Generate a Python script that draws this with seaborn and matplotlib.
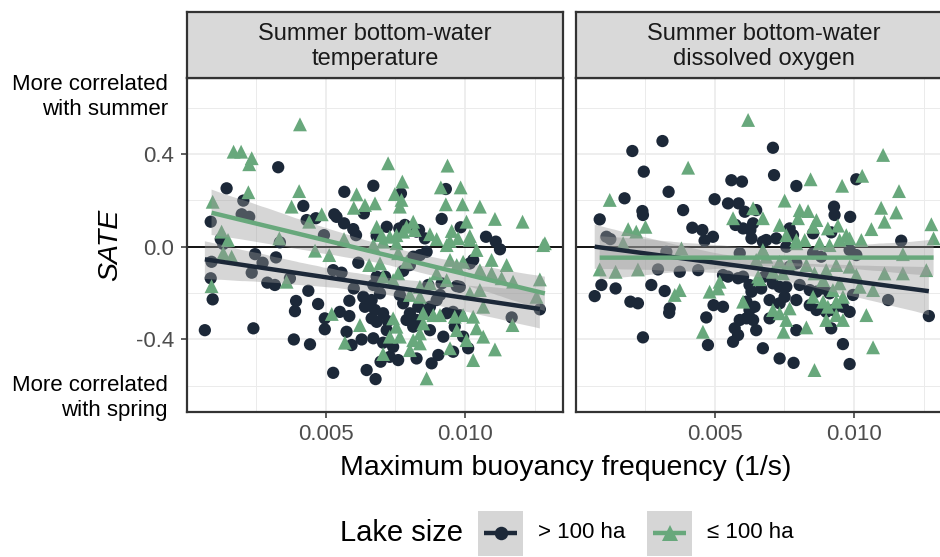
import numpy as np
import pandas as pd
import matplotlib
matplotlib.use("Agg")
import matplotlib.pyplot as plt
from matplotlib.lines import Line2D
from matplotlib.patches import Rectangle
import seaborn as sns

sns.set_theme(style="white")
plt.rcParams["font.family"] = ["Liberation Sans", "DejaVu Sans"]

# ---- Summer bottom-water temperature: lakes > 100 ha ----
temp_large_x = [0.00330, 0.00145, 0.00205, 0.00088, 0.00420, 0.00567, 0.00671, 0.00637, 0.00531, 0.00539,
                0.00465, 0.00432, 0.00566, 0.00599, 0.00609, 0.00494, 0.00199, 0.00226, 0.00719, 0.00124,
                0.00336, 0.00683, 0.00770, 0.00931, 0.00916, 0.00984, 0.00764, 0.00784, 0.00835, 0.01075,
                0.01110, 0.00856, 0.00133, 0.00247, 0.00322, 0.00274, 0.00091, 0.00235, 0.00088, 0.00095,
                0.00067, 0.00241, 0.00291, 0.00318, 0.00372, 0.00438, 0.00394, 0.00390, 0.00473, 0.00386,
                0.00444, 0.00497, 0.00497, 0.00527, 0.00617, 0.00527, 0.00557, 0.00601, 0.00551, 0.00585,
                0.00585, 0.00635, 0.00665, 0.00641, 0.00677, 0.00665, 0.00683, 0.00706, 0.00719, 0.00575,
                0.00593, 0.00629, 0.00671, 0.00706, 0.00697, 0.00647, 0.00679, 0.00683, 0.00713, 0.00695,
                0.01125, 0.00826, 0.00671, 0.00778, 0.00802, 0.00814, 0.00838, 0.00862, 0.00723, 0.00778,
                0.00802, 0.00790, 0.00814, 0.00826, 0.00766, 0.00832, 0.00856, 0.00874, 0.00898, 0.00910,
                0.00868, 0.00916, 0.00970, 0.00934, 0.00957, 0.00981, 0.00874, 0.00922, 0.00963, 0.00993,
                0.00742, 0.00730, 0.00760, 0.00826, 0.00880, 0.00904, 0.00957, 0.01011, 0.01167, 0.01268,
                0.01017, 0.01029, 0.00981]
temp_large_y = [0.343, 0.252, 0.199, 0.108, 0.176, 0.237, 0.263, 0.144, 0.140, 0.129,
                0.123, 0.115, 0.101, 0.076, 0.050, 0.050, 0.140, 0.129, 0.086, 0.033,
                0.019, 0.047, 0.230, 0.249, 0.120, 0.084, 0.079, 0.094, 0.072, 0.043,
                0.022, 0.036, 0.012, -0.032, -0.046, -0.069, -0.065, -0.112, -0.136, -0.227,
                -0.360, -0.352, -0.155, -0.165, -0.136, -0.190, -0.234, -0.278, -0.247, -0.400,
                -0.421, -0.309, -0.356, -0.544, -0.069, -0.101, -0.112, -0.180, -0.281, -0.233,
                -0.299, -0.216, -0.230, -0.259, -0.273, -0.309, -0.324, -0.287, -0.360, -0.367,
                -0.424, -0.400, -0.395, -0.414, -0.496, -0.532, -0.571, -0.129, -0.129, -0.201,
                -0.011, 0.065, -0.165, -0.104, -0.079, -0.043, -0.036, -0.022, -0.321, -0.244,
                -0.287, -0.316, -0.345, -0.316, -0.208, -0.259, -0.281, -0.259, -0.230, -0.208,
                -0.165, -0.158, -0.170, -0.287, -0.281, -0.295, -0.360, -0.388, -0.345, -0.388,
                -0.432, -0.475, -0.489, -0.482, -0.503, -0.467, -0.453, -0.438, -0.305, -0.270,
                -0.072, -0.057, -0.173]

# ---- Summer bottom-water temperature: lakes <= 100 ha ----
temp_small_x = [0.00408, 0.00170, 0.00197, 0.00235, 0.00226, 0.00223, 0.00405, 0.00095, 0.00378, 0.00486,
                0.00441, 0.00611, 0.00641, 0.00601, 0.00677, 0.00683, 0.00701, 0.00724, 0.00127, 0.00566,
                0.00334, 0.00150, 0.00937, 0.00775, 0.00913, 0.00984, 0.00748, 0.00766, 0.00772, 0.00931,
                0.00991, 0.01053, 0.01107, 0.01206, 0.01005, 0.00814, 0.00790, 0.01286, 0.00952, 0.00975,
                0.01017, 0.00874, 0.00898, 0.00945, 0.00754, 0.00778, 0.00820, 0.00163, 0.00133, 0.00091,
                0.00360, 0.00462, 0.00513, 0.00656, 0.00522, 0.00623, 0.00569, 0.00706, 0.00706, 0.01280,
                0.01268, 0.01256, 0.01170, 0.01149, 0.01172, 0.01131, 0.01095, 0.01095, 0.01053, 0.01041,
                0.01017, 0.00946, 0.00970, 0.00993, 0.00934, 0.01065, 0.01029, 0.01041, 0.01065, 0.01107,
                0.01029, 0.00862, 0.00946, 0.01005, 0.00970, 0.00850, 0.00886, 0.00910, 0.00963, 0.00993,
                0.00742, 0.00754, 0.00730, 0.00766, 0.00814, 0.00838, 0.00850, 0.00802, 0.00838, 0.00760,
                0.00790, 0.00760, 0.00742, 0.00706, 0.00695, 0.00671, 0.00730, 0.00754, 0.00838, 0.00874,
                0.00898, 0.00934, 0.00802, 0.00838, 0.01017, 0.01053]
temp_small_y = [0.528, 0.410, 0.410, 0.382, 0.356, 0.235, 0.240, 0.194, 0.173, 0.140,
                0.108, 0.226, 0.180, 0.168, 0.187, 0.086, 0.050, 0.360, 0.065, 0.033,
                0.036, 0.029, 0.350, 0.281, 0.256, 0.256, 0.227, 0.173, 0.202, 0.183,
                0.183, 0.173, 0.120, 0.108, 0.108, 0.108, 0.086, 0.015, 0.068, 0.036,
                0.046, 0.054, 0.033, 0.025, 0.050, 0.065, 0.072, -0.043, -0.028, -0.170,
                -0.151, -0.017, -0.036, -0.079, -0.290, -0.338, -0.414, -0.463, 0.022, 0.007,
                -0.141, -0.216, -0.338, -0.079, -0.151, -0.136, -0.115, -0.057, -0.101, -0.014,
                0.030, -0.057, -0.079, -0.065, 0.007, -0.259, -0.302, -0.352, -0.388, -0.443,
                -0.489, -0.568, -0.438, -0.403, -0.360, -0.287, -0.295, -0.295, -0.302, -0.295,
                -0.309, -0.345, -0.388, -0.388, -0.403, -0.374, -0.331, -0.446, -0.417, -0.028,
                -0.065, -0.115, -0.144, -0.129, -0.072, 0.007, 0.043, 0.015, -0.173, -0.158,
                -0.115, -0.144, -0.208, -0.216, -0.201, -0.187]

# ---- Summer bottom-water dissolved oxygen: lakes > 100 ha ----
oxy_large_x = [0.00313, 0.00205, 0.00246, 0.00335, 0.00177, 0.00088, 0.00241, 0.00243, 0.00387, 0.00420,
               0.00456, 0.00464, 0.00494, 0.00500, 0.00560, 0.00598, 0.00548, 0.00586, 0.00608, 0.00649,
               0.00575, 0.00602, 0.00638, 0.00632, 0.00673, 0.00112, 0.00709, 0.00713, 0.00793, 0.01008,
               0.00928, 0.00930, 0.00986, 0.00628, 0.00769, 0.00781, 0.00853, 0.00918, 0.01169, 0.00685,
               0.00721, 0.00126, 0.00094, 0.00145, 0.00070, 0.00198, 0.00225, 0.00273, 0.00321, 0.00339,
               0.00337, 0.00243, 0.00470, 0.00476, 0.00496, 0.00530, 0.00530, 0.00548, 0.00584, 0.00602,
               0.00625, 0.00632, 0.00667, 0.00590, 0.00297, 0.00375, 0.00441, 0.00327, 0.00614, 0.00643,
               0.00625, 0.00590, 0.00614, 0.00638, 0.00572, 0.00584, 0.00566, 0.00649, 0.00673, 0.01122,
               0.01268, 0.00733, 0.00783, 0.00960, 0.00984, 0.00793, 0.00918, 0.00697, 0.00757, 0.00679,
               0.00709, 0.00733, 0.00757, 0.00805, 0.00841, 0.00865, 0.00889, 0.00912, 0.00697, 0.00733,
               0.00751, 0.00793, 0.00841, 0.00865, 0.00900, 0.00924, 0.00960, 0.00984, 0.00984, 0.01008,
               0.00853, 0.00882, 0.00793, 0.00769, 0.00996]
oxy_large_y = [0.456, 0.413, 0.324, 0.237, 0.209, 0.118, 0.154, 0.137, 0.158, 0.082,
               0.072, 0.026, 0.043, 0.205, 0.287, 0.281, 0.187, 0.187, 0.151, 0.158,
               0.094, 0.079, 0.101, 0.036, 0.022, 0.043, 0.427, 0.309, 0.262, 0.291,
               0.173, 0.137, 0.129, 0.072, 0.079, 0.050, 0.058, 0.062, 0.026, 0.029,
               0.036, 0.033, -0.165, -0.180, -0.213, -0.237, -0.244, -0.165, -0.191, -0.266,
               -0.285, -0.391, -0.305, -0.424, -0.252, -0.259, -0.122, -0.129, -0.136, -0.129,
               -0.165, -0.194, -0.180, -0.028, -0.098, -0.108, -0.101, -0.022, -0.237, -0.259,
               -0.273, -0.316, -0.309, -0.316, -0.352, -0.381, -0.410, -0.360, -0.438, -0.230,
               -0.299, -0.482, -0.501, -0.420, -0.506, -0.360, -0.352, -0.309, 0.000, -0.129,
               -0.158, -0.173, -0.173, -0.165, -0.187, -0.194, -0.180, -0.201, -0.230, -0.244,
               -0.216, -0.230, -0.252, -0.273, -0.281, -0.273, -0.259, -0.281, -0.014, -0.036,
               -0.028, -0.043, -0.072, -0.086, -0.208]

# ---- Summer bottom-water dissolved oxygen: lakes <= 100 ha ----
oxy_small_x = [0.00620, 0.00405, 0.00124, 0.00190, 0.00219, 0.00252, 0.00566, 0.00638, 0.00673, 0.01104,
               0.00844, 0.00957, 0.01029, 0.01161, 0.00751, 0.00805, 0.00835, 0.00865, 0.01097, 0.01151,
               0.01109, 0.01062, 0.01277, 0.01285, 0.00942, 0.00906, 0.00799, 0.00853, 0.00733, 0.00757,
               0.00793, 0.00972, 0.00984, 0.01026, 0.00088, 0.00145, 0.00225, 0.00172, 0.00357, 0.00375,
               0.00482, 0.00512, 0.00518, 0.00458, 0.00602, 0.00656, 0.00381, 0.00673, 0.01175, 0.01109,
               0.01175, 0.01259, 0.01044, 0.01068, 0.00858, 0.00747, 0.00829, 0.00757, 0.00900, 0.00960,
               0.00936, 0.00769, 0.00733, 0.00709, 0.00661, 0.00709, 0.00745, 0.00649, 0.00685, 0.00733,
               0.00769, 0.00829, 0.00793, 0.00823, 0.00876, 0.00912, 0.00948, 0.00924, 0.00960, 0.00936,
               0.00889, 0.00948, 0.01008, 0.01020, 0.01068, 0.00858, 0.00900, 0.00936, 0.00984, 0.00853,
               0.00889, 0.00906]
oxy_small_y = [0.547, 0.341, 0.202, 0.076, 0.065, 0.086, 0.123, 0.166, 0.123, 0.396,
               0.291, 0.263, 0.306, 0.240, 0.199, 0.158, 0.154, 0.115, 0.168, 0.148,
               0.108, 0.076, 0.097, 0.036, 0.091, 0.079, 0.123, 0.086, 0.094, 0.050,
               0.029, 0.050, 0.036, 0.029, -0.098, -0.108, -0.098, 0.015, -0.208, -0.187,
               -0.194, -0.180, -0.151, -0.367, -0.237, -0.129, -0.007, -0.014, -0.032, -0.115,
               -0.115, -0.101, -0.295, -0.434, -0.532, -0.367, -0.348, -0.316, -0.316, -0.316,
               -0.295, -0.266, -0.287, -0.273, -0.140, -0.108, -0.115, -0.057, -0.043, -0.065,
               -0.072, -0.079, 0.015, 0.029, 0.015, 0.007, 0.029, -0.187, -0.216, -0.237,
               -0.144, -0.158, -0.122, -0.173, -0.187, -0.115, -0.101, -0.079, -0.086, -0.216,
               -0.237, -0.259]

panel_titles = ["Summer bottom-water\ntemperature", "Summer bottom-water\ndissolved oxygen"]
size_levels = ["> 100 ha", "\u2264 100 ha"]
size_colors = {"> 100 ha": "#1C2838", "\u2264 100 ha": "#68A87C"}
size_markers = {"> 100 ha": "o", "\u2264 100 ha": "^"}
size_areas = {"> 100 ha": 78, "\u2264 100 ha": 100}
x_major = [0.005, 0.010]
x_minor = [0.0025, 0.0075, 0.0125]
y_major = [-0.4, 0.0, 0.4]
y_minor = [-0.6, -0.2, 0.2, 0.6]
BAND = (0.6, 0.6, 0.6)


def panel_frame(lx, ly, sx, sy):
    big = pd.DataFrame({"buoyancy": lx, "SATE": ly, "size": size_levels[0]})
    small = pd.DataFrame({"buoyancy": sx, "SATE": sy, "size": size_levels[1]})
    return pd.concat([big, small], ignore_index=True)


panels = [
    panel_frame(temp_large_x, temp_large_y, temp_small_x, temp_small_y),
    panel_frame(oxy_large_x, oxy_large_y, oxy_small_x, oxy_small_y),
]

W, H = 940, 557
fig = plt.figure(figsize=(W / 100, H / 100), dpi=100)


def px_axes(x0, y0, x1, y1):
    return fig.add_axes([x0 / W, 1 - y1 / H, (x1 - x0) / W, (y1 - y0) / H])


BORDER = "#333333"
GRID = "#EBEBEB"
panel_left = [187, 576]
panel_w = 376
top, bottom = 78, 412

for i, df in enumerate(panels):
    x0 = panel_left[i]
    ax = px_axes(x0, top, x0 + panel_w, bottom)
    ax.set_facecolor("white")
    ax.set_xticks(x_major)
    ax.set_xticks(x_minor, minor=True)
    ax.set_yticks(y_major)
    ax.set_yticks(y_minor, minor=True)
    ax.grid(which="major", color=GRID, lw=1.2)
    ax.grid(which="minor", color=GRID, lw=0.7)
    ax.set_axisbelow(True)
    ax.axhline(0, color="black", lw=1.3, zorder=1.5)

    sns.scatterplot(data=df, x="buoyancy", y="SATE", hue="size", style="size",
                    size="size", sizes=size_areas, palette=size_colors,
                    markers=size_markers, linewidth=0, legend=False, ax=ax, zorder=2)

    for lvl in size_levels:
        sub = df[df["size"] == lvl]
        n_before = len(ax.collections)
        sns.regplot(data=sub, x="buoyancy", y="SATE", scatter=False, ci=95, seed=1,
                    color=size_colors[lvl], truncate=True, ax=ax,
                    line_kws=dict(lw=3.2, zorder=4, solid_capstyle="butt"))
        for coll in ax.collections[n_before:]:
            coll.set_facecolor(BAND)
            coll.set_alpha(0.4)
            coll.set_edgecolor("none")
            coll.set_zorder(3)

    ax.set_xlim(0.00003, 0.01351)
    ax.set_ylim(-0.713, 0.728)
    ax.set_xlabel("")
    ax.set_ylabel("")
    ax.set_xticklabels(["0.005", "0.010"])
    ax.tick_params(axis="x", which="major", length=4.5, width=1.1, color=BORDER,
                   labelsize=16, labelcolor="#4D4D4D", pad=4, bottom=True)
    ax.tick_params(which="minor", length=0)
    if i == 0:
        ax.set_yticklabels(["-0.4", "0.0", "0.4"])
        ax.tick_params(axis="y", which="major", length=4.5, width=1.1, color=BORDER,
                       labelsize=16, labelcolor="#4D4D4D", pad=5, left=True)
    else:
        ax.tick_params(axis="y", which="both", left=False, labelleft=False)
    for sp in ax.spines.values():
        sp.set_color(BORDER)
        sp.set_linewidth(1.6)
        sp.set_visible(True)

    # facet strip
    st = px_axes(x0, 12, x0 + panel_w, top)
    st.set_facecolor("#D9D9D9")
    st.set_xticks([])
    st.set_yticks([])
    for sp in st.spines.values():
        sp.set_color(BORDER)
        sp.set_linewidth(1.6)
        sp.set_visible(True)
    st.text(0.5, 0.48, panel_titles[i], transform=st.transAxes, ha="center",
            va="center", fontsize=17, color="#1A1A1A", linespacing=1.2)

# axis titles and side annotations
fig.text(566 / W, 1 - 468 / H, "Maximum buoyancy frequency (1/s)", ha="center",
         va="center", fontsize=20.5, color="black")
fig.text(110 / W, 1 - 245 / H, "SATE", ha="center", va="center", rotation=90,
         fontsize=20.5, style="italic", color="black")
fig.text(168 / W, 1 - 97 / H, "More correlated\nwith summer", ha="right", va="center",
         fontsize=16, color="black", linespacing=1.22)
fig.text(168 / W, 1 - 398 / H, "More correlated\nwith spring", ha="right", va="center",
         fontsize=16, color="black", linespacing=1.22)

# legend
fig.text(340 / W, 1 - 533 / H, "Lake size", ha="left", va="center", fontsize=21, color="black")
key_x = [478, 647]
label_x = [538, 707]
for kx, lx, lvl in zip(key_x, label_x, size_levels):
    fig.add_artist(Rectangle((kx / W, 1 - 556 / H), 45 / W, 45 / H,
                             transform=fig.transFigure, facecolor="white", edgecolor="none"))
    fig.add_artist(Line2D([(kx + 22.5) / W], [1 - 533 / H], transform=fig.transFigure,
                          marker=size_markers[lvl], markersize=np.sqrt(size_areas[lvl]) * 1.1,
                          color=size_colors[lvl], markeredgewidth=0, linestyle="none"))
    fig.add_artist(Rectangle((kx / W, 1 - 556 / H), 45 / W, 45 / H,
                             transform=fig.transFigure, facecolor=BAND + (0.4,),
                             edgecolor="none"))
    fig.add_artist(Line2D([(kx + 6) / W, (kx + 39) / W], [1 - 533 / H, 1 - 533 / H],
                          transform=fig.transFigure, color=size_colors[lvl], lw=3.2,
                          solid_capstyle="butt"))
    fig.text(lx / W, 1 - 533 / H, lvl, ha="left", va="center", fontsize=16, color="black")

fig.savefig("out.png", dpi=100)
